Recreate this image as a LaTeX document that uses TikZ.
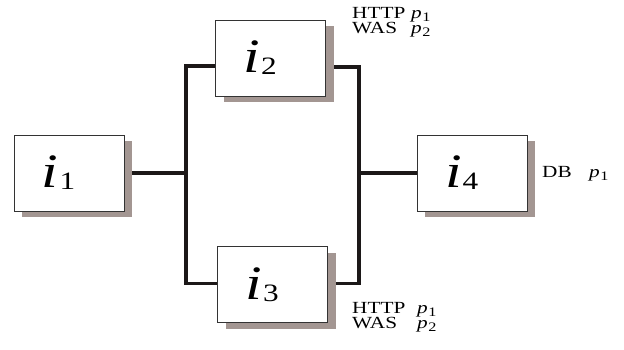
\documentclass[tikz,border=0pt]{standalone}
\usepackage{fontspec}
\setmainfont[FakeStretch=1.25]{Liberation Serif}
\usetikzlibrary{shadows,backgrounds,calc}
\definecolor{shade}{RGB}{163,150,146}
\definecolor{ink}{RGB}{28,24,24}
\newcommand{\hostlabel}[1]{\hspace*{28pt}{\fontsize{48}{48}\selectfont\itshape i}\kern1pt{\fontsize{25}{25}\selectfont\raisebox{-2pt}{#1}}}
\newcommand{\pvar}[1]{{\itshape p}\kern0.5pt\raisebox{-3pt}{\fontsize{13}{13}\selectfont #1}}
\tikzset{
  host/.style={draw=black!80, line width=0.8pt, fill=white,
    minimum width=110pt, minimum height=76pt, inner sep=0pt,
    text width=110pt, align=left,
    general shadow={fill=shade, shadow xshift=8pt, shadow yshift=-6pt}},
  wire/.style={draw=ink, line width=3.5pt},
  tag/.style={anchor=base west, inner sep=0pt, font=\fontsize{17}{14.5}\selectfont}
}
\begin{document}
\begin{tikzpicture}[x=1pt,y=-1pt]
  \useasboundingbox (0,0) rectangle (624,349);
  % hosts
  \node[host] (i1) at (69,173) {\hostlabel{1}};
  \node[host] (i2) at (270.5,58) {\hostlabel{2}};
  \node[host] (i3) at (272.5,284.5) {\hostlabel{3}};
  \node[host] (i4) at (472,173) {\hostlabel{4}};
  % junction points and attachment points
  \coordinate (jl) at (186,173);
  \coordinate (jr) at (359,173);
  \coordinate (i2in) at ([yshift=-8pt]i2.west);
  \coordinate (i2out) at ([yshift=-9pt]i2.east);
  \coordinate (i3in) at ([yshift=1pt]i3.west);
  \coordinate (i3out) at ([yshift=1pt]i3.east);
  % connections behind the boxes
  \begin{scope}[on background layer]
    \draw[wire] (i1.east) -- (jl);
    \draw[wire] (i2in) -| (jl) |- (i3in);
    \draw[wire] (i2out) -| (jr) |- (i3out);
    \draw[wire] (jr) -- (i4.west);
  \end{scope}
  % service tags
  \node[tag] (svc2) at (352,18) {\begin{tabular}[t]{@{}p{59pt}@{}l@{}}
      HTTP & \pvar{1}\\ WAS & \pvar{2}\end{tabular}};
  \node[tag] (svc3) at (352,313) {\begin{tabular}[t]{@{}p{65pt}@{}l@{}}
      HTTP & \pvar{1}\\ WAS & \pvar{2}\end{tabular}};
  \node[tag] (svc4) at (542,177) {\begin{tabular}[t]{@{}p{47pt}@{}l@{}}
      DB & \pvar{1}\end{tabular}};
\end{tikzpicture}
\end{document}
